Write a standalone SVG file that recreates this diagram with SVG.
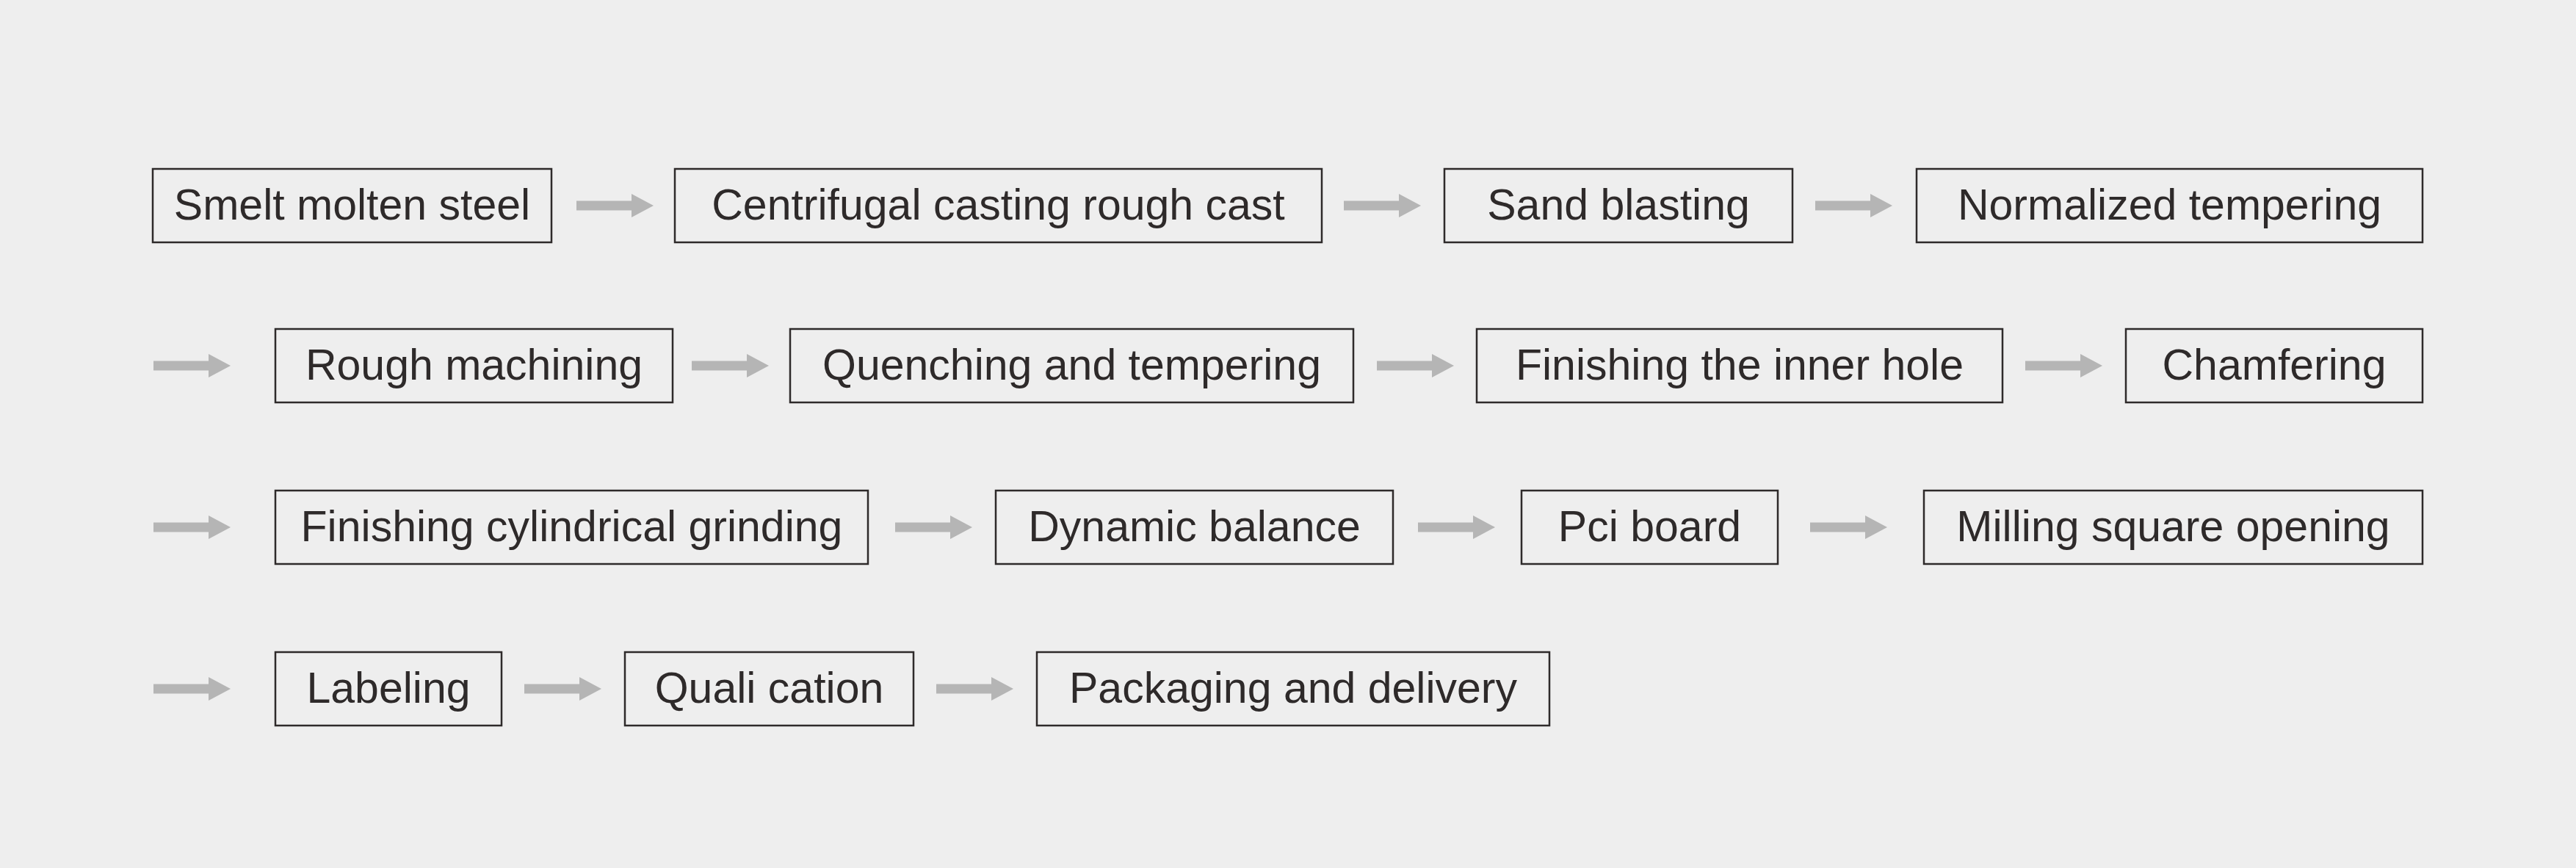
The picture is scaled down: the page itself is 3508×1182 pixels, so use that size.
<svg xmlns="http://www.w3.org/2000/svg" xmlns:xlink="http://www.w3.org/1999/xlink" width="3508" height="1182" viewBox="0 0 3508 1182">
<style>
.box{fill:none;stroke:#2e2a2a;stroke-width:2.5}
.lbl{font-family:"Liberation Sans",Arial,sans-serif;font-size:59px;fill:#2e2a2a;text-anchor:middle}
.arr{fill:#b5b5b5}
</style>
<defs>
<path id="arrow" d="M0,-6.5 H75 V-16 L105,0 L75,16 V6.5 H0 Z"/>
</defs>
<rect x="0" y="0" width="3508" height="1182" fill="#eeeeee"/>
<g id="connectors" class="arr">
<use xlink:href="#arrow" x="785" y="280"/>
<use xlink:href="#arrow" x="1830" y="280"/>
<use xlink:href="#arrow" x="2472" y="280"/>
<use xlink:href="#arrow" x="209" y="498"/>
<use xlink:href="#arrow" x="942" y="498"/>
<use xlink:href="#arrow" x="1875" y="498"/>
<use xlink:href="#arrow" x="2758" y="498"/>
<use xlink:href="#arrow" x="209" y="718"/>
<use xlink:href="#arrow" x="1219" y="718"/>
<use xlink:href="#arrow" x="1931" y="718"/>
<use xlink:href="#arrow" x="2465" y="718"/>
<use xlink:href="#arrow" x="209" y="938"/>
<use xlink:href="#arrow" x="714" y="938"/>
<use xlink:href="#arrow" x="1275" y="938"/>
</g>
<g id="n1"><rect class="box" x="208" y="230" width="543" height="100"/><text class="lbl" x="479.5" y="299">Smelt molten steel</text></g>
<g id="n2"><rect class="box" x="919" y="230" width="881" height="100"/><text class="lbl" x="1359.5" y="299">Centrifugal casting rough cast</text></g>
<g id="n3"><rect class="box" x="1967" y="230" width="474" height="100"/><text class="lbl" x="2204" y="299">Sand blasting</text></g>
<g id="n4"><rect class="box" x="2610" y="230" width="689" height="100"/><text class="lbl" x="2954.5" y="299">Normalized tempering</text></g>
<g id="n5"><rect class="box" x="375" y="448" width="541" height="100"/><text class="lbl" x="645.5" y="517">Rough machining</text></g>
<g id="n6"><rect class="box" x="1076" y="448" width="767" height="100"/><text class="lbl" x="1459.5" y="517">Quenching and tempering</text></g>
<g id="n7"><rect class="box" x="2011" y="448" width="716" height="100"/><text class="lbl" x="2369" y="517">Finishing the inner hole</text></g>
<g id="n8"><rect class="box" x="2895" y="448" width="404" height="100"/><text class="lbl" x="3097" y="517">Chamfering</text></g>
<g id="n9"><rect class="box" x="375" y="668" width="807" height="100"/><text class="lbl" x="778.5" y="737">Finishing cylindrical grinding</text></g>
<g id="n10"><rect class="box" x="1356" y="668" width="541" height="100"/><text class="lbl" x="1626.5" y="737">Dynamic balance</text></g>
<g id="n11"><rect class="box" x="2072" y="668" width="349" height="100"/><text class="lbl" x="2246.5" y="737">Pci board</text></g>
<g id="n12"><rect class="box" x="2620" y="668" width="679" height="100"/><text class="lbl" x="2959.5" y="737">Milling square opening</text></g>
<g id="n13"><rect class="box" x="375" y="888" width="308" height="100"/><text class="lbl" x="529" y="957">Labeling</text></g>
<g id="n14"><rect class="box" x="851" y="888" width="393" height="100"/><text class="lbl" x="1047.5" y="957">Quali cation</text></g>
<g id="n15"><rect class="box" x="1412" y="888" width="698" height="100"/><text class="lbl" x="1761" y="957">Packaging and delivery</text></g>
</svg>
